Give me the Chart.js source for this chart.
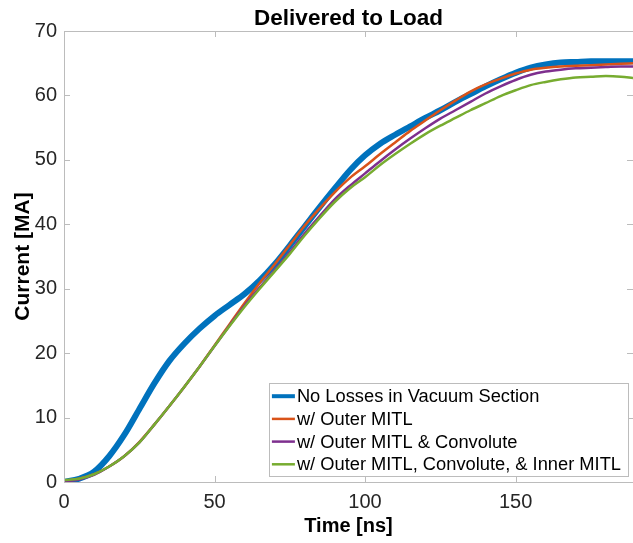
<!DOCTYPE html>
<html>
<head>
<meta charset="utf-8">
<script src="https://cdn.jsdelivr.net/npm/chart.js@4/dist/chart.umd.min.js"></script>
<style>
  html, body { margin: 0; padding: 0; background: #fff; }
  #wrap { width: 633px; height: 543px; }
</style>
</head>
<body>
<div id="wrap"><canvas id="mychart" width="633" height="543"></canvas></div>
<script>
// time axis [ns]
const times = [0,5,10,15,20,25,30,35,40,45,50,55,60,65,70,75,80,85,90,95,100,
  105,110,115,120,125,130,135,140,145,150,155,160,165,170,175,180,185,189];

// current [MA]
const noLosses = [0.0,0.5,1.6,4.0,7.3,11.3,15.3,18.8,21.5,23.8,25.8,27.5,29.2,31.3,33.8,36.7,39.7,42.7,45.6,48.4,50.7,
  52.5,53.9,55.2,56.5,57.7,59.0,60.2,61.4,62.5,63.5,64.3,64.8,65.1,65.2,65.3,65.3,65.3,65.3];
const outerMitl = [0.1,0.5,1.2,2.4,4.0,6.2,8.9,11.8,14.8,17.9,21.2,24.5,27.8,30.9,33.8,36.8,39.8,42.5,45.0,47.2,49.0,
  50.9,52.7,54.5,56.1,57.7,59.2,60.6,61.7,62.6,63.4,64.0,64.3,64.5,64.6,64.7,64.8,64.9,65.0];
const convolute = [0.1,0.4,1.1,2.4,4.0,6.1,8.9,11.8,14.8,17.9,21.1,24.3,27.4,30.2,32.9,35.7,38.6,41.3,43.9,46.0,47.9,
  49.8,51.6,53.3,54.9,56.4,57.7,59.0,60.3,61.4,62.4,63.2,63.7,64.0,64.2,64.3,64.4,64.5,64.5];
const innerMitl = [0.3,0.5,1.2,2.4,4.0,6.1,8.9,11.8,14.8,17.9,21.1,24.2,27.2,30.0,32.7,35.4,38.3,41.0,43.5,45.6,47.3,
  49.2,50.9,52.5,54.0,55.3,56.5,57.7,58.8,59.9,60.8,61.6,62.1,62.5,62.8,62.9,63.0,62.9,62.7];

const labels = ['No Losses in Vacuum Section','w/ Outer MITL','w/ Outer MITL & Convolute','w/ Outer MITL, Convolute, & Inner MITL'];
const colors = ['#0072BD','#D95319','#7E2F8E','#77AC30'];
const widths = [6,2.5,2.5,2.5];
const series = [noLosses, outerMitl, convolute, innerMitl];

const fam = '"Liberation Sans", Arial, Helvetica, sans-serif';
const axisCol = '#bcbcbc';
const txtCol = '#262626';

function pts(arr){
  return times.map(function(t,i){ return {x:t, y:arr[i]}; });
}

var datasets = [];
for (var i=0;i<series.length;i++){
  datasets.push({
    label: labels[i],
    data: pts(series[i]),
    borderColor: colors[i],
    backgroundColor: colors[i],
    borderWidth: widths[i],
    pointRadius: 0,
    fill: false,
    cubicInterpolationMode: 'monotone',
    order: series.length - i
  });
}

// box, inward ticks, title and legend in MATLAB style
const matlabBits = {
  id: 'matlabBits',
  afterDatasetsDraw(chart){
    const ctx = chart.ctx;
    const a = chart.chartArea;
    const xs = chart.scales.x, ys = chart.scales.y;
    ctx.save();
    ctx.strokeStyle = axisCol;
    ctx.lineWidth = 1;
    ctx.beginPath();
    ctx.rect(a.left+0.5, a.top+0.5, a.right-a.left, a.bottom-a.top);
    ctx.stroke();
    const tl = 6;
    ctx.beginPath();
    xs.ticks.forEach(function(t){
      const px = Math.round(xs.getPixelForValue(t.value))+0.5;
      ctx.moveTo(px, a.bottom); ctx.lineTo(px, a.bottom-tl);
      ctx.moveTo(px, a.top); ctx.lineTo(px, a.top+tl);
    });
    ys.ticks.forEach(function(t){
      const py = Math.round(ys.getPixelForValue(t.value))+0.5;
      ctx.moveTo(a.left, py); ctx.lineTo(a.left+tl, py);
      ctx.moveTo(a.right, py); ctx.lineTo(a.right-tl, py);
    });
    ctx.stroke();

    // title
    ctx.fillStyle = '#000';
    ctx.font = 'bold 22.5px ' + fam;
    ctx.textAlign = 'center';
    ctx.textBaseline = 'alphabetic';
    ctx.fillText('Delivered to Load', (a.left+a.right)/2, 25);

    // legend
    ctx.font = '18.3px ' + fam;
    var tw = 0;
    labels.forEach(function(l){ tw = Math.max(tw, ctx.measureText(l).width); });
    const rowH = 22.7;
    const bw = tw + 35, bh = rowH*labels.length + 2;
    const bx = a.right - 5 - bw, by = a.bottom - 6 - bh;
    ctx.fillStyle = '#fff';
    ctx.fillRect(bx, by, bw, bh);
    ctx.strokeStyle = axisCol;
    ctx.strokeRect(Math.round(bx)+0.5, Math.round(by)+0.5, Math.round(bw), Math.round(bh));
    ctx.textAlign = 'left';
    ctx.textBaseline = 'middle';
    labels.forEach(function(l, k){
      const cy = by + 13 + k*rowH;
      ctx.strokeStyle = colors[k];
      ctx.lineWidth = k===0 ? 4 : 2.5;
      ctx.beginPath();
      ctx.moveTo(bx+3, cy); ctx.lineTo(bx+26, cy);
      ctx.stroke();
      ctx.fillStyle = '#000';
      ctx.fillText(l, bx+28, cy+1);
    });
    ctx.restore();
  }
};

var ctx = document.getElementById('mychart').getContext('2d');
var myChart = new Chart(ctx, {
  type: 'line',
  data: { datasets: datasets },
  options: {
    responsive: false,
    animation: false,
    layout: { padding: { top: 31, right: -2, left: 0, bottom: 0 } },
    plugins: {
      legend: { display: false },
      title: { display: false },
      tooltip: { enabled: false }
    },
    scales: {
      x: {
        type: 'linear',
        min: 0, max: 189,
        grid: { display: false, drawTicks: false },
        border: { display: false },
        ticks: { stepSize: 50, includeBounds: false, padding: 8, color: txtCol, font: { family: fam, size: 20 } },
        title: { display: true, text: 'Time [ns]', color: '#000', font: { family: fam, size: 20, weight: 'bold' }, padding: { top: 0, bottom: 5 } },
        afterFit: function(s){ s.height = 61; }
      },
      y: {
        min: 0, max: 70,
        grid: { display: false, drawTicks: false },
        border: { display: false },
        ticks: { stepSize: 10, padding: 7, color: txtCol, font: { family: fam, size: 20 } },
        title: { display: true, text: 'Current [MA]', color: '#000', font: { family: fam, size: 21, weight: 'bold' }, padding: { top: 11, bottom: 0 } },
        afterFit: function(s){ s.width = 64; }
      }
    }
  },
  plugins: [matlabBits]
});
</script>
</body>
</html>
